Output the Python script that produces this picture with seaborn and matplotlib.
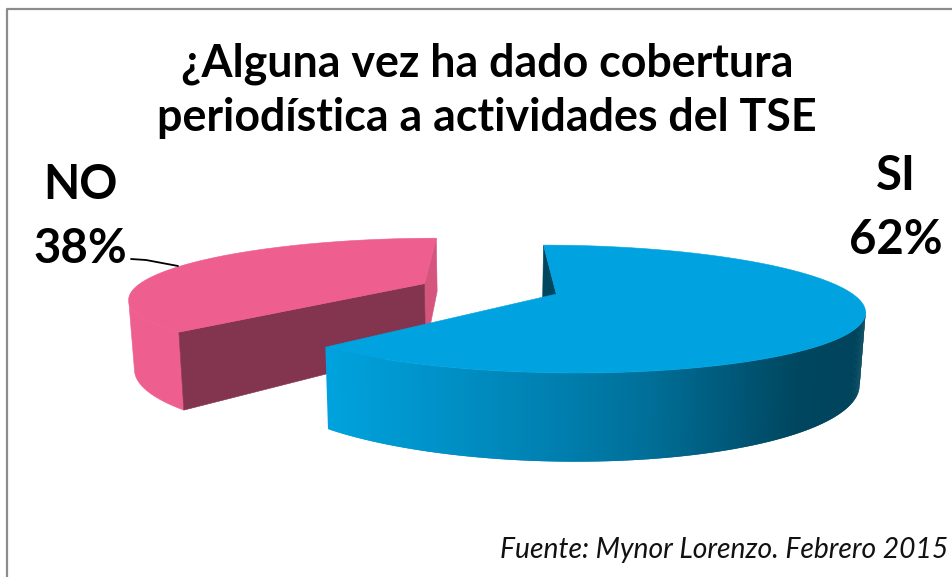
import numpy as np
import matplotlib
matplotlib.use('Agg')
import matplotlib.pyplot as plt
from matplotlib.colors import LinearSegmentedColormap
import seaborn as sns

categories = ['SI', 'NO']
values = [62, 38]
title = '¿Alguna vez ha dado cobertura\nperiodística a actividades del TSE'
source = 'Fuente: Mynor Lorenzo. Febrero 2015'

sns.set_theme(style='white')
plt.rcParams['font.family'] = ['Lato', 'DejaVu Sans']

# colores
pal = sns.color_palette(['#00A3E0', '#EE5E8E'])
blue, pink = pal[0], pal[1]
pink_wall = '#83344F'
pink_facet = '#D5557F'
blue_wall = '#00465F'
blue_side = LinearSegmentedColormap.from_list(
    'side', [(0, '#00A2DE'), (0.42, '#0080B0'), (0.6, '#006F98'), (0.88, '#00465F'), (1, '#00445C')])

# perspectiva del plano de la torta
X0, YH = 489, 36
F, H, D = 1266, 1102, 290
W0 = 4.36
EXPLODE = 0.244
BOTTOM_X = 0.984


def project(theta, radius, center, bottom=False):
    # theta en grados, horario desde arriba
    t = np.radians(theta)
    u = center[0] + radius * np.sin(t)
    v = center[1] - radius * np.cos(t)
    w = W0 - v
    x = F * u / w
    y = YH + (H + (D if bottom else 0)) / w
    if bottom:
        x = x * BOTTOM_X
    return X0 + x, y


def poly(ax, xs, ys, color, z, lw=0.4):
    ax.fill(xs, ys, color=color, lw=lw, zorder=z)


def wall(ax, theta, center, color, z):
    # pared plana desde el borde hasta el vertice
    th = np.array([theta, theta])
    r = np.array([1.0, 0.0])
    x, y = project(th, r, center)
    xb, yb = project(th, r, center, True)
    poly(ax, [x[0], x[1], xb[1], xb[0]], [y[0], y[1], yb[1], yb[0]], color, z)


def top(ax, a, b, center, color, z):
    arc = np.linspace(a, b, 200)
    x, y = project(arc, 1.0, center)
    x0, y0 = project(0.0, 0.0, center)
    poly(ax, np.r_[x0, x], np.r_[y0, y], color, z)


fig, ax = plt.subplots(figsize=(9.53, 5.77), dpi=100)
fig.subplots_adjust(0, 0, 1, 1)
ax.set_xlim(0, 953)
ax.set_ylim(577, 0)
ax.axis('off')

# limites de cada sector a partir de los valores
cut = 360 * values[0] / sum(values)
mid = np.radians(cut / 2)
c_si = (EXPLODE * np.sin(mid), -EXPLODE * np.cos(mid))
c_no = (-c_si[0], -c_si[1])

# NO
wall(ax, 0.0, c_no, pink_facet, 1)
wall(ax, cut, c_no, pink_wall, 2)
side = np.linspace(cut, 252, 30)
x, y = project(side, 1.0, c_no)
xb, yb = project(side, 1.0, c_no, True)
poly(ax, np.r_[x, xb[::-1]], np.r_[y, yb[::-1]], pink, 1.5)
top(ax, cut, 360, c_no, pink, 3)

# SI
wall(ax, 0.0, c_si, blue_wall, 4)
side = np.linspace(105, cut, 260)
x, y = project(side, 1.0, c_si)
xb, yb = project(side, 1.0, c_si, True)
left, right = xb.min(), x.max()
# de derecha a izquierda, cada tira pisa a la anterior
for i in range(len(side) - 2):
    col = blue_side((0.5 * (x[i] + x[i + 1]) - left) / (right - left))
    poly(ax, [x[i], x[i + 2], xb[i + 2], xb[i]], [y[i], y[i + 2], yb[i + 2], yb[i]], col, 5, lw=0)
top(ax, 0, cut, c_si, blue, 6)

# linea guia de NO
ax.plot([131, 146, 178], [259, 260, 266], color='black', lw=1.3, zorder=7)

# marco
ax.plot([7.5, 7.5, 953], [577, 8.5, 8.5], color='#8C8C8C', lw=1.6, zorder=1, clip_on=False)

# textos
ax.text(487, 91, title, ha='center', va='center', fontsize=32.2, fontweight='bold',
        color='black', linespacing=1.36)
ax.text(80, 217, f'{categories[1]}\n{values[1]}%', ha='center', va='center', fontsize=34,
        fontweight='bold', color='black', linespacing=1.58)
ax.text(896, 208, f'{categories[0]}\n{values[0]}%', ha='center', va='center', fontsize=34,
        fontweight='bold', color='black', linespacing=1.58)
ax.text(948, 550, source, ha='right', va='center', fontsize=20.3, style='italic', color='#111111')

fig.savefig('out.png', dpi=100)
